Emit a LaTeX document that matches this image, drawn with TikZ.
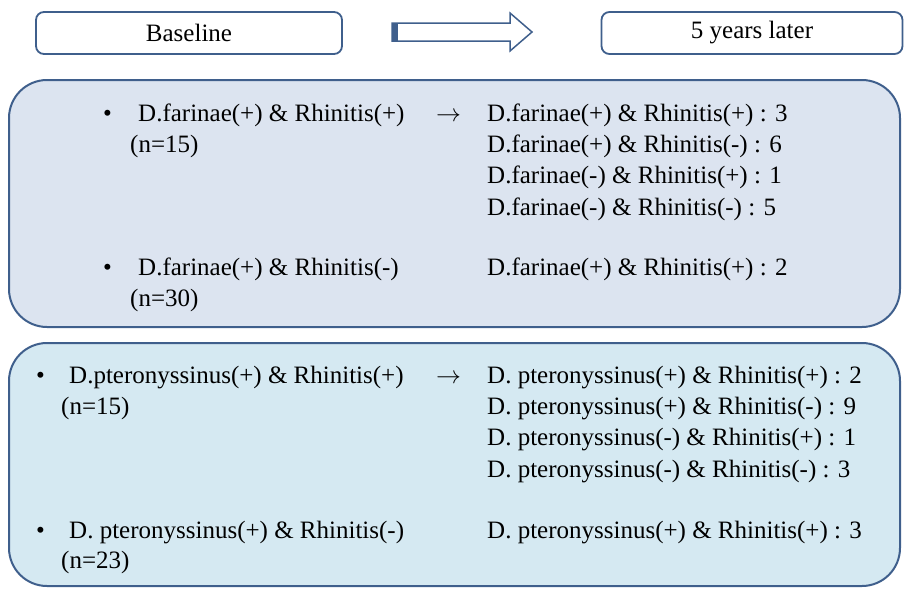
\documentclass[tikz,border=0pt]{standalone}
\usepackage{fontspec}
\setmainfont{Liberation Serif}
\usetikzlibrary{positioning}

\definecolor{frameblue}{HTML}{3F5F8C}
\definecolor{farinaebg}{HTML}{DCE4F0}
\definecolor{pterobg}{HTML}{D5E9F2}

\tikzset{
  headbox/.style={draw=frameblue, line width=1.8pt, fill=white, rounded corners=8pt,
    minimum height=42pt, inner sep=0pt, font=\fontsize{25}{30}\selectfont},
  groupbox/.style={draw=frameblue, line width=2pt, rounded corners=38pt, inner sep=0pt},
  entry/.style={inner sep=0pt, text height=17pt, text depth=6pt, anchor=base west,
    font=\fontsize{25}{31}\selectfont},
}

\begin{document}
\begin{tikzpicture}[x=1pt,y=1pt]
  \useasboundingbox (0,0) rectangle (905,-589);
  % header row
  \node[headbox, minimum width=306pt] (base) at (189,-33) {Baseline};
  \node[headbox, minimum width=301pt] (later) at (752,-33) {5 years later};
  \filldraw[draw=frameblue, fill=white, line width=1.5pt] (392,-23) -- (510,-23) -- (510,-13)
    -- (532,-32) -- (510,-51) -- (510,-41) -- (392,-41) -- cycle;
  \fill[frameblue] (392,-23) rectangle (398,-41);
  % D. farinae
  \node[groupbox, fill=farinaebg, minimum width=891pt, minimum height=247pt] (farinae) at (454.5,-203.5) {};
  \node[entry] (fbul1) at (103,-121) {\textbullet};
  \node[entry] (fpos) at (138,-121) {D.farinae(+) \& Rhinitis(+)};
  \node[entry] (fposn) at (130,-152) {(n=15)};
  \node[entry] (farr) at (436,-121) {$\rightarrow$};
  \node[entry] (fpp) at (487,-121) {D.farinae(+) \& Rhinitis(+) : 3};
  \node[entry, below right=8pt and 0pt of fpp.south west] (fpm) {D.farinae(+) \& Rhinitis(-) : 6};
  \node[entry, below right=8pt and 0pt of fpm.south west] (fmp) {D.farinae(-) \& Rhinitis(+) : 1};
  \node[entry, below right=8pt and 0pt of fmp.south west] (fmm) {D.farinae(-) \& Rhinitis(-) : 5};
  \node[entry] (fbul2) at (103,-275) {\textbullet};
  \node[entry] (fneg) at (138,-275) {D.farinae(+) \& Rhinitis(-)};
  \node[entry] (fnegn) at (130,-306) {(n=30)};
  \node[entry] (fnegpp) at (487,-275) {D.farinae(+) \& Rhinitis(+) : 2};
  % D. pteronyssinus
  \node[groupbox, fill=pterobg, minimum width=891pt, minimum height=243pt] (ptero) at (454.5,-464.5) {};
  \node[entry] (pbul1) at (36,-383) {\textbullet};
  \node[entry] (ppos) at (69,-383) {D.pteronyssinus(+) \& Rhinitis(+)};
  \node[entry] (pposn) at (61,-414) {(n=15)};
  \node[entry] (parr) at (436,-383) {$\rightarrow$};
  \node[entry] (ppp) at (487,-383) {D. pteronyssinus(+) \& Rhinitis(+) : 2};
  \node[entry, below right=8pt and 0pt of ppp.south west] (ppm) {D. pteronyssinus(+) \& Rhinitis(-) : 9};
  \node[entry, below right=8pt and 0pt of ppm.south west] (pmp) {D. pteronyssinus(-) \& Rhinitis(+) : 1};
  \node[entry, below right=8pt and 0pt of pmp.south west] (pmm) {D. pteronyssinus(-) \& Rhinitis(-) : 3};
  \node[entry] (pbul2) at (36,-538) {\textbullet};
  \node[entry] (pneg) at (69,-538) {D. pteronyssinus(+) \& Rhinitis(-)};
  \node[entry] (pnegn) at (61,-568) {(n=23)};
  \node[entry] (pnegpp) at (487,-538) {D. pteronyssinus(+) \& Rhinitis(+) : 3};
\end{tikzpicture}
\end{document}
